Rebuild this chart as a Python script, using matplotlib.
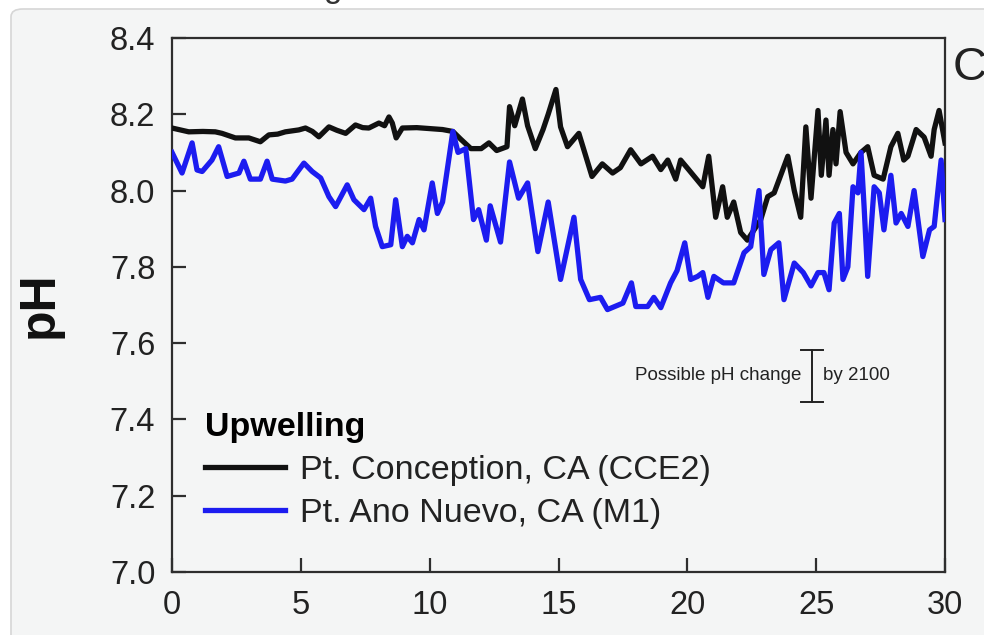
import matplotlib
matplotlib.use('Agg')
import matplotlib.pyplot as plt
from matplotlib.patches import FancyBboxPatch
import numpy as np

plt.rcParams['font.family'] = ['Liberation Sans', 'DejaVu Sans']

# Pt. Conception, CA (CCE2)
cce2_day = [0.0, 0.65, 1.2, 1.68, 1.94, 2.46, 2.98, 3.43, 3.76, 4.1, 4.4, 4.92, 5.18,
            5.45, 5.7, 6.09, 6.4, 6.74, 7.12, 7.4, 7.64, 8.03, 8.25, 8.42, 8.55, 8.7,
            8.94, 9.5, 10.1, 10.5, 10.9, 11.2, 11.6, 12.0, 12.3, 12.6, 13.0, 13.1,
            13.3, 13.6, 13.8, 14.1, 14.4, 14.6, 14.9, 15.08, 15.35, 15.79, 16.3, 16.7,
            17.1, 17.4, 17.8, 18.2, 18.65, 18.97, 19.24, 19.55, 19.74, 20.05, 20.6,
            20.83, 21.1, 21.37, 21.55, 21.8, 22.07, 22.33, 22.6, 22.85, 23.12, 23.37,
            23.9, 24.15, 24.4, 24.6, 24.8, 25.07, 25.2, 25.38, 25.5, 25.65, 25.77,
            25.93, 26.16, 26.43, 26.74, 27.0, 27.25, 27.6, 27.9, 28.17, 28.4, 28.56,
            28.88, 29.19, 29.46, 29.58, 29.77, 30.0]
cce2_ph = [8.164, 8.154, 8.155, 8.154, 8.15, 8.138, 8.138, 8.128, 8.146, 8.148, 8.154,
           8.159, 8.164, 8.155, 8.141, 8.167, 8.158, 8.15, 8.172, 8.165, 8.164, 8.177,
           8.17, 8.193, 8.177, 8.138, 8.164, 8.165, 8.162, 8.16, 8.155, 8.135, 8.11,
           8.11, 8.125, 8.105, 8.115, 8.22, 8.17, 8.24, 8.17, 8.11, 8.16, 8.2, 8.265,
           8.167, 8.115, 8.15, 8.037, 8.07, 8.046, 8.06, 8.107, 8.07, 8.09, 8.055,
           8.08, 8.03, 8.08, 8.055, 8.01, 8.09, 7.93, 8.01, 7.93, 7.97, 7.89, 7.87,
           7.898, 7.924, 7.984, 7.994, 8.09, 8.0, 7.93, 8.167, 7.98, 8.21, 8.04,
           8.185, 8.04, 8.16, 8.07, 8.207, 8.10, 8.07, 8.10, 8.115, 8.04, 8.03, 8.115,
           8.15, 8.08, 8.09, 8.16, 8.14, 8.09, 8.16, 8.21, 8.125]

# Pt. Ano Nuevo, CA (M1)
m1_day = [0.0, 0.39, 0.78, 0.97, 1.17, 1.55, 1.81, 2.14, 2.6, 2.79, 3.04, 3.43, 3.69,
          3.89, 4.4, 4.66, 5.12, 5.44, 5.77, 6.09, 6.35, 6.8, 7.06, 7.45, 7.71, 7.9,
          8.16, 8.49, 8.68, 8.94, 9.13, 9.33, 9.59, 9.78, 10.1, 10.3, 10.5, 10.9,
          11.1, 11.4, 11.7, 11.9, 12.2, 12.35, 12.75, 13.1, 13.45, 13.8, 14.2, 14.6,
          15.08, 15.6, 15.86, 16.2, 16.63, 16.9, 17.5, 17.83, 18.0, 18.46, 18.7,
          18.97, 19.35, 19.6, 19.9, 20.13, 20.4, 20.6, 20.8, 21.03, 21.4, 21.8, 22.2,
          22.46, 22.78, 22.97, 23.24, 23.55, 23.75, 24.15, 24.5, 24.8, 25.07, 25.3,
          25.5, 25.7, 25.9, 26.04, 26.23, 26.43, 26.62, 26.74, 26.86, 27.0, 27.25,
          27.45, 27.63, 27.9, 28.1, 28.3, 28.56, 28.8, 29.14, 29.4, 29.58, 29.85,
          30.0]
m1_ph = [8.10, 8.046, 8.125, 8.054, 8.05, 8.08, 8.115, 8.037, 8.046, 8.077, 8.03,
         8.03, 8.077, 8.03, 8.025, 8.03, 8.072, 8.05, 8.033, 7.984, 7.958, 8.015,
         7.976, 7.95, 7.98, 7.906, 7.853, 7.858, 7.976, 7.853, 7.88, 7.863, 7.924,
         7.897, 8.02, 7.94, 7.97, 8.155, 8.10, 8.11, 7.924, 7.95, 7.87, 7.96, 7.865,
         8.075, 7.98, 8.02, 7.84, 7.97, 7.767, 7.93, 7.767, 7.714, 7.72, 7.688,
         7.705, 7.758, 7.696, 7.696, 7.72, 7.693, 7.758, 7.79, 7.863, 7.767, 7.775,
         7.785, 7.72, 7.775, 7.758, 7.758, 7.837, 7.853, 8.0, 7.78, 7.845, 7.863,
         7.714, 7.81, 7.785, 7.75, 7.785, 7.785, 7.74, 7.915, 7.94, 7.767, 7.80,
         8.01, 7.994, 8.10, 7.958, 7.775, 8.01, 7.994, 7.897, 8.04, 7.915, 7.94,
         7.906, 8.0, 7.827, 7.897, 7.906, 8.08, 7.924]

x_ticks = [0, 5, 10, 15, 20, 25, 30]
y_ticks = [7.0, 7.2, 7.4, 7.6, 7.8, 8.0, 8.2, 8.4]

# range bar: possible pH change by 2100
change_day = 24.83
change_low = 7.447
change_high = 7.583

bg = '#f4f5f5'
spine_col = '#2e2e2e'

fig = plt.figure(figsize=(9.84, 6.35), dpi=100)
fig.patch.set_facecolor('white')
# screenshot panel behind the chart
panel = FancyBboxPatch((11 / 984, -0.2), 1.2, 1.2 - 9 / 635,
                       boxstyle='round,pad=0,rounding_size=0.012',
                       transform=fig.transFigure, facecolor=bg,
                       edgecolor='#d6d6d6', linewidth=1.2, zorder=-10)
fig.patches.append(panel)
fig.text(333 / 984, 1.0 + 3 / 635, 'g', fontsize=24, color='#333333',
         ha='center', va='baseline')

ax = fig.add_axes([172 / 984, 1 - 572 / 635, (945 - 172) / 984, (572 - 38) / 635])
ax.set_facecolor(bg)

ax.plot(cce2_day, cce2_ph, color='#111111', lw=3.8, solid_joinstyle='round',
        label='Pt. Conception, CA (CCE2)', zorder=3)
ax.plot(m1_day, m1_ph, color='#1c1cf0', lw=3.8, solid_joinstyle='round',
        label='Pt. Ano Nuevo, CA (M1)', zorder=4)

ax.set_xlim(0, 30)
ax.set_ylim(7.0, 8.4)
ax.set_xticks(x_ticks)
ax.set_yticks(y_ticks)
ax.set_yticklabels([f'{v:.1f}' for v in y_ticks])
for s in ax.spines.values():
    s.set_color(spine_col)
    s.set_linewidth(1.6)
ax.tick_params(axis='both', direction='in', length=10, width=1.6, color=spine_col,
               labelsize=23.5, labelcolor='#222222')
ax.tick_params(axis='x', pad=13, top=False)
ax.tick_params(axis='y', pad=12, right=False)

ax.set_ylabel('pH', fontsize=36, fontweight='bold', labelpad=34, color='#111111')

# possible change bar
ax.plot([change_day, change_day], [change_low, change_high], color='#222222', lw=1.4)
ax.plot([change_day - 0.42, change_day + 0.42], [change_high, change_high],
        color='#222222', lw=1.4)
ax.plot([change_day - 0.42, change_day + 0.42], [change_low, change_low],
        color='#222222', lw=1.4)
mid = (change_low + change_high) / 2
ax.text(change_day - 0.4, mid, 'Possible pH change', fontsize=13.5, ha='right',
        va='center', color='#222222')
ax.text(change_day + 0.45, mid, 'by 2100', fontsize=13.5, ha='left',
        va='center', color='#222222')

leg = ax.legend(loc='upper left', bbox_to_anchor=(0.0427, 0.299), frameon=False,
                fontsize=24.5, title='Upwelling', handlelength=2.35,
                handletextpad=0.44, labelspacing=0.35, borderpad=0,
                borderaxespad=0, alignment='left')
leg.get_title().set_fontweight('bold')
leg.get_title().set_fontsize(24.5)
for t in leg.get_texts():
    t.set_color('#222222')

fig.text(953 / 984, 1 - 68 / 635, 'C', fontsize=34, color='#222222',
         ha='left', va='center')

fig.savefig('out.png', dpi=100, facecolor=fig.get_facecolor())
